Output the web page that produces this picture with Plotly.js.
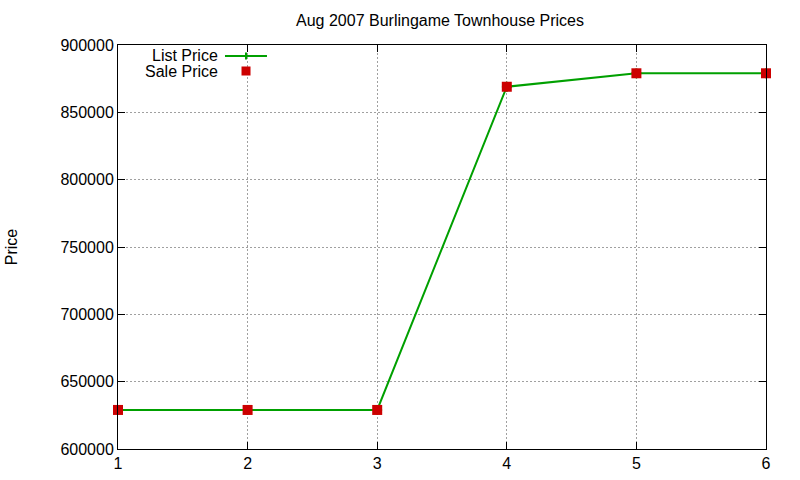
<!DOCTYPE html>
<html>
<head>
<meta charset="utf-8">
<script src="https://cdn.plot.ly/plotly-3.0.1.min.js"></script>
<style>html,body{margin:0;padding:0;background:#fff}#chart{width:800px;height:480px}</style>
</head>
<body>
<div id="chart"></div>
<script>
var houses = [1, 2, 3, 4, 5, 6];
var listPrice = [629000, 629000, 629000, 869000, 879000, 879000];
var salePrice = [629000, 629000, 629000, 869000, 879000, 879000];
var seriesNames = ['List Price', 'Sale Price'];
var titleText = 'Aug 2007 Burlingame Townhouse Prices';
var yTitle = 'Price';

var green = '#00a000', red = '#cc0000';
var font = 'Liberation Sans, Arial, sans-serif';

var traces = [
  {x: houses, y: listPrice, mode: 'lines+markers', name: seriesNames[0],
   line: {color: green, width: 2},
   marker: {symbol: 'cross-thin', size: 7, line: {color: green, width: 2}},
   showlegend: false, cliponaxis: false},
  {x: houses, y: salePrice, mode: 'markers', name: seriesNames[1],
   marker: {symbol: 'square', size: 10, color: red},
   showlegend: false, cliponaxis: false}
];

var layout = {
  width: 800, height: 480,
  margin: {l: 118, r: 34, t: 45, b: 31},
  paper_bgcolor: '#fff', plot_bgcolor: '#fff',
  font: {family: font, size: 16, color: '#000'},
  title: {text: titleText, font: {size: 16, family: font}, x: 0.55, xanchor: 'center', y: 0.958, yanchor: 'middle'},
  xaxis: {
    range: [1, 6], dtick: 1, tick0: 1,
    showgrid: true, gridcolor: '#a0a0a0', griddash: '2px,2px', gridwidth: 1,
    showline: true, linecolor: '#000', linewidth: 1, mirror: 'allticks',
    ticks: 'inside', ticklen: 7, tickcolor: '#000',
    zeroline: false, tickfont: {size: 16}
  },
  yaxis: {
    range: [600000, 900000], dtick: 50000, tick0: 600000,
    showgrid: true, gridcolor: '#a0a0a0', griddash: '2px,2px', gridwidth: 1,
    showline: true, linecolor: '#000', linewidth: 1, mirror: 'allticks',
    ticks: 'inside', ticklen: 7, tickcolor: '#000',
    zeroline: false, tickfont: {size: 16}, tickformat: 'd',
    title: {text: yTitle, font: {size: 16}, standoff: 38}
  },
  annotations: [
    {xref: 'paper', yref: 'paper', x: 0.1574, y: 0.975, text: seriesNames[0], showarrow: false,
     xanchor: 'right', yanchor: 'middle', font: {size: 16}},
    {xref: 'paper', yref: 'paper', x: 0.1574, y: 0.9356, text: seriesNames[1], showarrow: false,
     xanchor: 'right', yanchor: 'middle', font: {size: 16}}
  ],
  shapes: [
    {type: 'line', xref: 'paper', yref: 'paper', x0: 0.1651, x1: 0.2299, y0: 0.9728, y1: 0.9728,
     line: {color: green, width: 2}},
    {type: 'line', xref: 'paper', yref: 'paper', x0: 0.1975, x1: 0.1975, y0: 0.9641, y1: 0.9815,
     line: {color: green, width: 2}},
    {type: 'rect', xref: 'paper', yref: 'paper', x0: 0.1906, x1: 0.2045, y0: 0.9245, y1: 0.9468,
     line: {width: 0}, fillcolor: red}
  ]
};

Plotly.newPlot('chart', traces, layout, {displayModeBar: false, staticPlot: true});
</script>
</body>
</html>
